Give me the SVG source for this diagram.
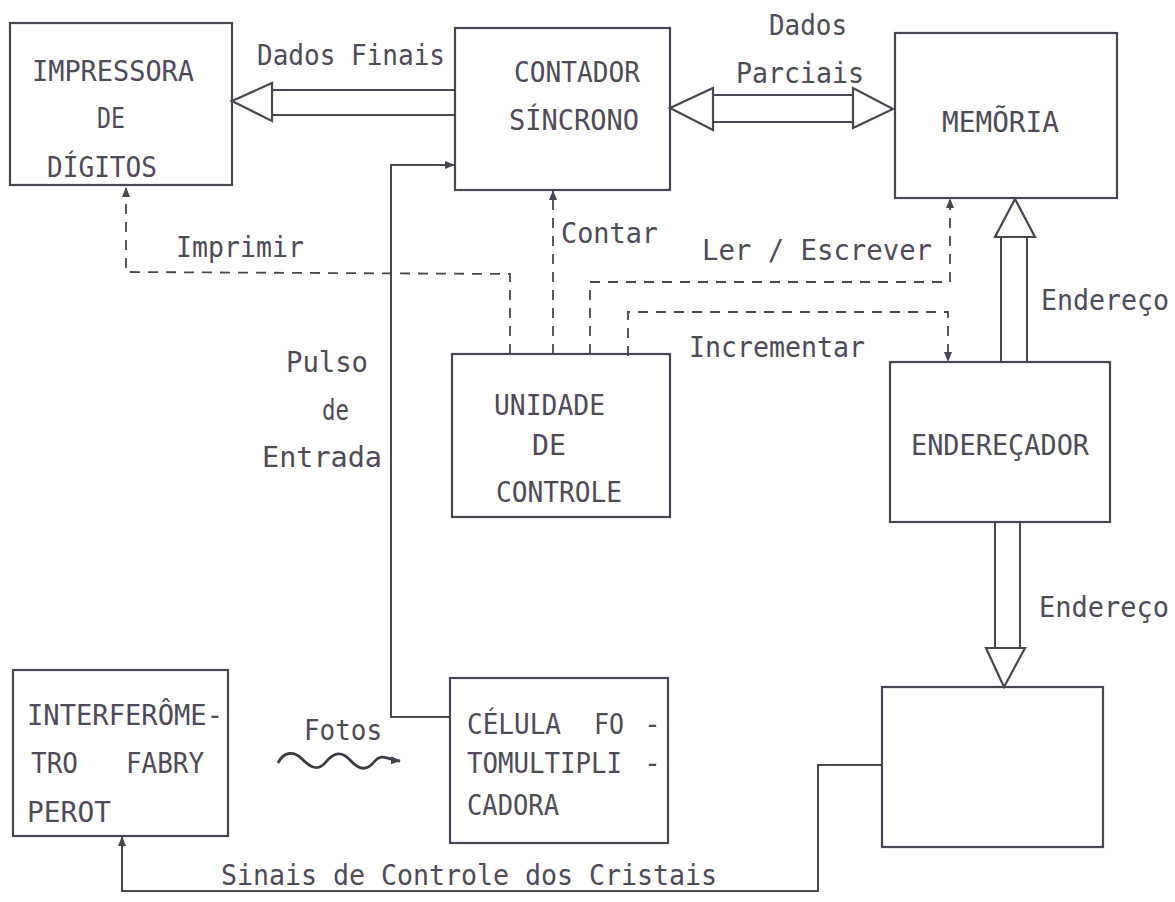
<svg xmlns="http://www.w3.org/2000/svg" width="1175" height="902" viewBox="0 0 1175 902">
<style>
  .box{fill:none;stroke:#4a4552;stroke-width:2.2}
  .ln{fill:none;stroke:#4a4552;stroke-width:2}
  .wave{fill:none;stroke:#3f3a48;stroke-width:2.8}
  .bus{fill:#fff;stroke:#4a4552;stroke-width:2.2;stroke-linejoin:miter}
  .dash{fill:none;stroke:#4a4552;stroke-width:1.8;stroke-dasharray:10 8}
  text{font-family:"DejaVu Sans Mono","Liberation Mono",monospace;font-size:28px;fill:#4f4a58}
</style>
<defs>
  <marker id="ah" markerWidth="10" markerHeight="10" refX="9" refY="5" orient="auto" markerUnits="userSpaceOnUse">
    <path d="M0,1 L10,5 L0,9 Z" fill="#4a4552"/>
  </marker>
</defs>
<rect width="1175" height="902" fill="#ffffff"/>

<g id="impressora">
  <rect class="box" x="10" y="23" width="222" height="162"/>
  <text x="32" y="81" textLength="162" lengthAdjust="spacingAndGlyphs">IMPRESSORA</text>
  <text x="97" y="128" textLength="28" lengthAdjust="spacingAndGlyphs">DE</text>
  <text x="47" y="177" textLength="110" lengthAdjust="spacingAndGlyphs">DÍGITOS</text>
</g>
<g id="contador">
  <rect class="box" x="455" y="28" width="215" height="162"/>
  <text x="514" y="82" textLength="126" lengthAdjust="spacingAndGlyphs">CONTADOR</text>
  <text x="509" y="130" textLength="130" lengthAdjust="spacingAndGlyphs">SÍNCRONO</text>
</g>
<g id="memoria">
  <rect class="box" x="895" y="33" width="222" height="165"/>
  <text x="942" y="132" textLength="117" lengthAdjust="spacingAndGlyphs">MEMÕRIA</text>
</g>
<g id="unidade">
  <rect class="box" x="452" y="354" width="218" height="163"/>
  <text x="494" y="415" textLength="111" lengthAdjust="spacingAndGlyphs">UNIDADE</text>
  <text x="532" y="455" textLength="34" lengthAdjust="spacingAndGlyphs">DE</text>
  <text x="496" y="502" textLength="126" lengthAdjust="spacingAndGlyphs">CONTROLE</text>
</g>
<g id="enderecador">
  <rect class="box" x="890" y="362" width="220" height="160"/>
  <text x="911" y="455" textLength="178" lengthAdjust="spacingAndGlyphs">ENDEREÇADOR</text>
</g>
<g id="interferometro">
  <rect class="box" x="13" y="670" width="215" height="166"/>
  <text x="27" y="725" textLength="196" lengthAdjust="spacingAndGlyphs">INTERFERÔME-</text>
  <text x="31" y="773" textLength="47" lengthAdjust="spacingAndGlyphs">TRO</text>
  <text x="126" y="773" textLength="78" lengthAdjust="spacingAndGlyphs">FABRY</text>
  <text x="27" y="822" textLength="84" lengthAdjust="spacingAndGlyphs">PEROT</text>
</g>
<g id="celula">
  <rect class="box" x="450" y="678" width="218" height="165"/>
  <text y="734"><tspan x="467" textLength="94" lengthAdjust="spacingAndGlyphs">CÉLULA</tspan><tspan x="594" textLength="30" lengthAdjust="spacingAndGlyphs">FO</tspan><tspan x="644">-</tspan></text>
  <text y="773"><tspan x="467" textLength="155" lengthAdjust="spacingAndGlyphs">TOMULTIPLI</tspan><tspan x="644">-</tspan></text>
  <text x="467" y="815" textLength="92" lengthAdjust="spacingAndGlyphs">CADORA</text>
</g>
<g id="bloco">
  <rect class="box" x="882" y="687" width="221" height="160"/>
</g>

<g id="connectors">
  <line class="ln" x1="272" y1="90" x2="455" y2="90"/>
  <line class="ln" x1="272" y1="115" x2="455" y2="115"/>
  <polygon class="bus" points="232,101 272,83 272,121"/>
  <line class="ln" x1="713" y1="95" x2="853" y2="95"/>
  <line class="ln" x1="713" y1="122" x2="853" y2="122"/>
  <polygon class="bus" points="670,108 713,88 713,130"/>
  <polygon class="bus" points="893,109 853,88 853,128"/>
  <line class="ln" x1="1001" y1="237" x2="1001" y2="362"/>
  <line class="ln" x1="1027" y1="237" x2="1027" y2="362"/>
  <polygon class="bus" points="1015,199 995,237 1035,237"/>
  <line class="ln" x1="995" y1="522" x2="995" y2="648"/>
  <line class="ln" x1="1020" y1="522" x2="1020" y2="648"/>
  <polygon class="bus" points="1004,687 986,648 1025,648"/>
  <polyline class="ln" points="450,717 391,717 391,165 454,165" marker-end="url(#ah)"/>
  <polyline class="ln" points="882,765 818,765 818,891 122,891 122,837" marker-end="url(#ah)"/>
  <polyline class="dash" points="510,354 510,274 126,272 126,188" marker-end="url(#ah)"/>
  <polyline class="dash" points="553,354 553,191" marker-end="url(#ah)"/>
  <polyline class="dash" points="590,354 590,282 950,282 950,199" marker-end="url(#ah)"/>
  <polyline class="dash" points="628,356 628,312 948,312 948,361" marker-end="url(#ah)"/>
  <path class="wave" d="M278,763 C284,751 294,751 302,759 S318,772 326,762 S342,751 350,760 S366,772 374,762 S388,760 400,761" marker-end="url(#ah)"/>
</g>

<g id="labels">
  <text x="257" y="65" textLength="188" lengthAdjust="spacingAndGlyphs">Dados Finais</text>
  <text x="769" y="35" textLength="78" lengthAdjust="spacingAndGlyphs">Dados</text>
  <text x="736" y="83" textLength="128" lengthAdjust="spacingAndGlyphs">Parciais</text>
  <text x="1041" y="310" textLength="128" lengthAdjust="spacingAndGlyphs">Endereço</text>
  <text x="1039" y="617" textLength="130" lengthAdjust="spacingAndGlyphs">Endereço</text>
  <text x="176" y="257" textLength="128" lengthAdjust="spacingAndGlyphs">Imprimir</text>
  <text x="561" y="243" textLength="97" lengthAdjust="spacingAndGlyphs">Contar</text>
  <text x="702" y="260" textLength="230" lengthAdjust="spacingAndGlyphs">Ler / Escrever</text>
  <text x="689" y="357" textLength="176" lengthAdjust="spacingAndGlyphs">Incrementar</text>
  <text x="286" y="372" textLength="82" lengthAdjust="spacingAndGlyphs">Pulso</text>
  <text x="322" y="420" textLength="27" lengthAdjust="spacingAndGlyphs">de</text>
  <text x="262" y="467" textLength="120" lengthAdjust="spacingAndGlyphs">Entrada</text>
  <text x="304" y="740" textLength="78" lengthAdjust="spacingAndGlyphs">Fotos</text>
  <text x="221" y="885" textLength="496" lengthAdjust="spacingAndGlyphs">Sinais de Controle dos Cristais</text>
</g>
</svg>
